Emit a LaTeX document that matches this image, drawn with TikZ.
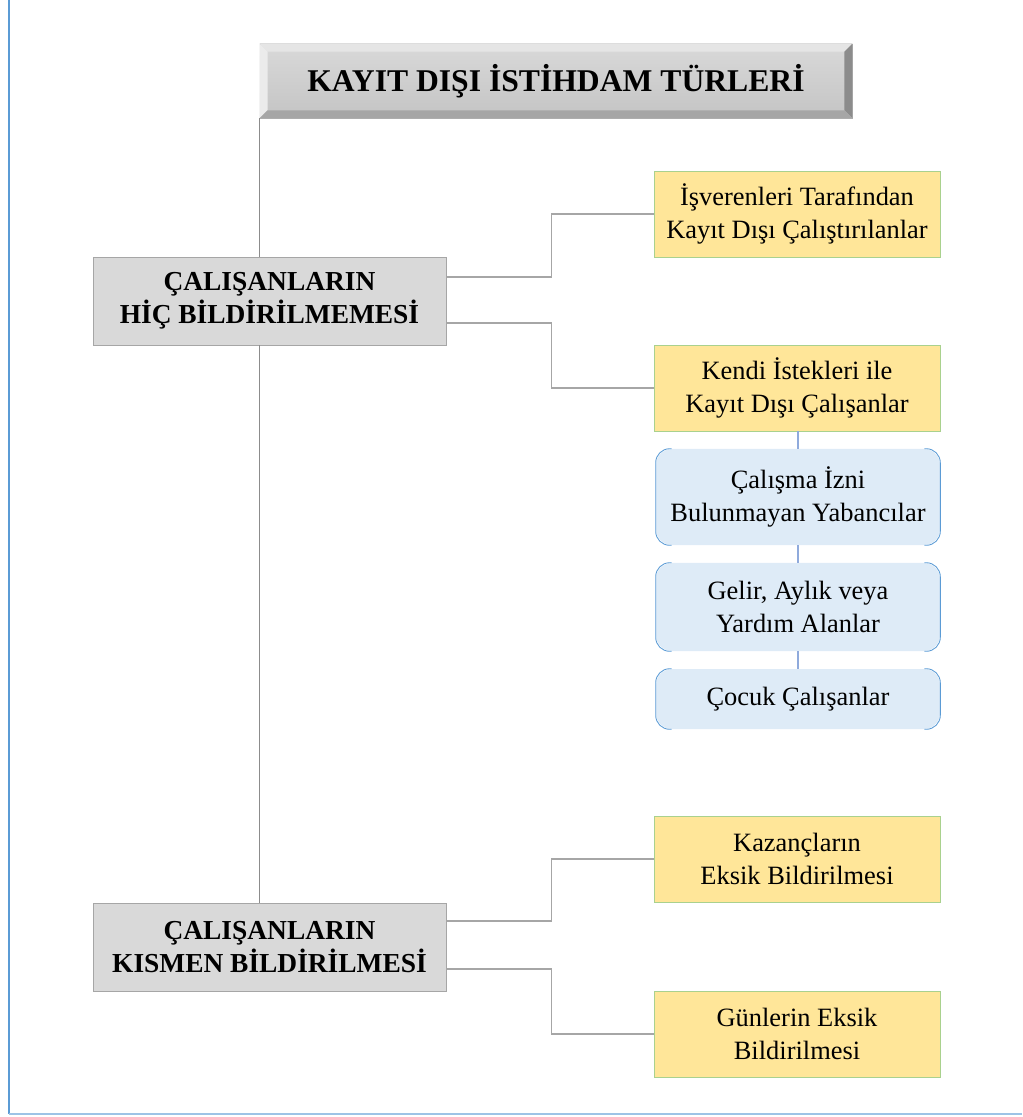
\documentclass[tikz,border=0pt]{standalone}
\usepackage{fontspec}
\setmainfont{Liberation Serif}
\usetikzlibrary{positioning}
\definecolor{boxgray}{HTML}{D9D9D9}
\definecolor{edgegray}{HTML}{A6A6A6}
\definecolor{trunkgray}{HTML}{8C8C8C}
\definecolor{gold}{HTML}{FFE699}
\definecolor{leafgreen}{HTML}{A9D18E}
\definecolor{paleblue}{HTML}{DEEBF7}
\definecolor{edgeblue}{HTML}{5B9BD5}
\definecolor{lineblue}{HTML}{8FAADC}
\definecolor{framebottom}{HTML}{9DC3E6}

\begin{document}
\begin{tikzpicture}[x=0.025cm,y=-0.025cm,
  headbox/.style={draw=gray!60,top color=black!15,bottom color=black!23,inner sep=0pt,
    minimum width=14.8cm,minimum height=1.85cm,font=\fontsize{22.5}{27}\selectfont\bfseries},
  main/.style={draw=edgegray,fill=boxgray,align=center,inner sep=0pt,
    minimum width=8.825cm,minimum height=2.2cm,font=\fontsize{19.5}{23.5}\selectfont\bfseries},
  leaf/.style={draw=leafgreen,fill=gold,align=center,inner sep=0pt,
    minimum width=7.15cm,minimum height=2.15cm,font=\fontsize{18.8}{24}\selectfont},
  sub/.style={fill=paleblue,rounded corners=0.4cm,align=center,inner sep=0pt,
    minimum width=7.1cm,font=\fontsize{18.8}{24}\selectfont},
  link/.style={draw=edgegray,line width=0.8pt},
  sublink/.style={draw=lineblue,line width=0.8pt},
  side/.style={draw=edgeblue,line width=0.6pt,rounded corners=0.35cm}]
\useasboundingbox (0,0) rectangle (1022,1117);
% frame
\draw[edgeblue,line width=0.8pt] (9,0) -- (9,1114);
\draw[framebottom,line width=1.5pt] (9,1114) -- (1022,1114);
% title with bevel
\node[headbox] (title) at (556,81) {KAYIT DIŞI İSTİHDAM TÜRLERİ};
\fill[black!10] (title.north west) -- (title.north east) -- ([shift={(-8,8)}]title.north east) -- ([shift={(8,8)}]title.north west) -- cycle;
\fill[black!8] (title.north west) -- (title.south west) -- ([shift={(8,-8)}]title.south west) -- ([shift={(8,8)}]title.north west) -- cycle;
\fill[black!45] (title.north east) -- (title.south east) -- ([shift={(-8,-8)}]title.south east) -- ([shift={(-8,8)}]title.north east) -- cycle;
\fill[black!35] (title.south west) -- (title.south east) -- ([shift={(-8,-8)}]title.south east) -- ([shift={(8,-8)}]title.south west) -- cycle;
% main groups
\node[main] (hic) at (269.5,301) {ÇALIŞANLARIN\\HİÇ BİLDİRİLMEMESİ};
\node[main] (kismen) at (269.5,947) {ÇALIŞANLARIN\\KISMEN BİLDİRİLMESİ};
% leaves
\node[leaf] (isveren) at (797,214) {İşverenleri Tarafından\\Kayıt Dışı Çalıştırılanlar};
\node[leaf] (kendi) at (797,388) {Kendi İstekleri ile\\Kayıt Dışı Çalışanlar};
\node[sub,minimum height=2.4cm] (izin) at (798,497) {Çalışma İzni\\Bulunmayan Yabancılar};
\node[sub,minimum height=2.2cm] (gelir) at (798,607) {Gelir, Aylık veya\\Yardım Alanlar};
\node[sub,minimum height=1.5cm] (cocuk) at (798,699) {Çocuk Çalışanlar};
\node[leaf] (kazanc) at (797,859) {Kazançların\\Eksik Bildirilmesi};
\node[leaf] (gunler) at (797,1034) {Günlerin Eksik\\Bildirilmesi};
% side borders of the blue boxes
\draw[side] ([xshift=0.4cm]izin.north west) -- (izin.north west) -- (izin.south west) -- ([xshift=0.4cm]izin.south west);
\draw[side] ([xshift=-0.4cm]izin.north east) -- (izin.north east) -- (izin.south east) -- ([xshift=-0.4cm]izin.south east);
\draw[side] ([xshift=0.4cm]gelir.north west) -- (gelir.north west) -- (gelir.south west) -- ([xshift=0.4cm]gelir.south west);
\draw[side] ([xshift=-0.4cm]gelir.north east) -- (gelir.north east) -- (gelir.south east) -- ([xshift=-0.4cm]gelir.south east);
\draw[side] ([xshift=0.4cm]cocuk.north west) -- (cocuk.north west) -- (cocuk.south west) -- ([xshift=0.4cm]cocuk.south west);
\draw[side] ([xshift=-0.4cm]cocuk.north east) -- (cocuk.north east) -- (cocuk.south east) -- ([xshift=-0.4cm]cocuk.south east);
% connectors
\draw[trunkgray,line width=0.8pt] (title.south west) -- (title.south west |- hic.north);
\draw[trunkgray,line width=0.8pt] (title.south west |- hic.south) -- (title.south west |- kismen.north);
\draw[link] ([yshift=0.6cm]hic.east) -- ++(105,0) |- (isveren.west);
\draw[link] ([yshift=-0.55cm]hic.east) -- ++(105,0) |- (kendi.west);
\draw[link] ([yshift=0.65cm]kismen.east) -- ++(105,0) |- (kazanc.west);
\draw[link] ([yshift=-0.55cm]kismen.east) -- ++(105,0) |- (gunler.west);
\draw[sublink] (kendi.south -| izin.north) -- (izin.north);
\draw[sublink] (izin.south) -- (gelir.north);
\draw[sublink] (gelir.south) -- (cocuk.north);
\end{tikzpicture}
\end{document}
